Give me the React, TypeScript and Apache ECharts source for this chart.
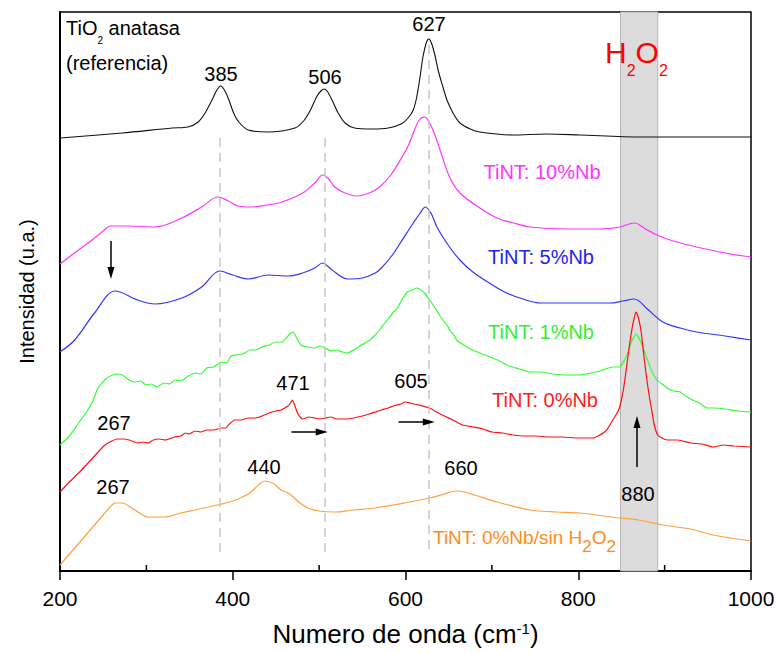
import React, { useEffect, useRef } from "react";
import * as echarts from "echarts";

// Raman spectra (x: cm-1, y: arbitrary stacked intensity units)
const referencia: number[][] = [[200,433],[272,438],[330,443],[348,444],[360,449],[368,458],[376,471],[381,480],[386,485],[391,480],[396,470],[401,458],[407,449],[418,441],[441,439],[472,443],[482,450],[490,461],[497,474],[502,480],[506,482],[510,479],[516,469],[522,458],[530,448],[541,443],[561,442],[580,443],[595,447],[603,453],[609,461],[613,474],[617,495],[620,513],[624,528],[627,532],[630,528],[634,516],[638,500],[643,485],[648,471],[655,458],[663,448],[675,442],[686,439],[724,436],[763,437],[802,436],[871,434],[1000,434]];
const nb10: number[][] = [[200,307],[220,320],[240,333],[250,340],[258,345],[280,345],[310,344],[341,353],[364,364],[383,374],[395,370],[406,365],[422,364],[440,366],[457,369],[481,378],[495,388],[504,396],[511,392],[518,384],[530,378],[544,375],[558,378],[570,384],[583,396],[594,411],[603,425],[609,438],[616,451],[622,454],[628,448],[634,436],[640,421],[651,394],[663,378],[686,363],[706,353],[725,348],[744,344],[786,342],[825,342],[848,344],[865,348],[878,342],[891,336],[910,330],[937,324],[970,318],[1000,314]];
const nb5: number[][] = [[200,219],[217,231],[240,258],[264,280],[290,271],[310,267],[341,273],[364,284],[385,300],[400,296],[418,292],[441,296],[464,295],[481,298],[495,303],[504,308],[515,301],[533,292],[550,293],[565,298],[572,303],[584,315],[594,328],[609,348],[617,358],[623,364],[630,357],[637,343],[651,324],[664,310],[678,299],[697,288],[717,278],[736,272],[756,268],[800,268],[837,268],[852,270],[865,272],[880,262],[898,249],[918,243],[937,239],[970,235],[1000,231]];
const nb1: number[][] = [[200,126],[210,134],[220,146],[232,161],[238,170],[244,183],[254,193],[264,197],[272,196],[280,191],[287,189],[293,190],[300,186],[306,187],[312,184],[320,188],[327,187],[333,191],[340,190],[347,194],[356,198],[363,197],[370,203],[378,204],[387,209],[393,208],[398,215],[405,216],[412,217],[420,221],[427,221],[434,224],[442,226],[450,229],[457,229],[462,233],[466,237],[470,239],[474,233],[479,226],[487,224],[495,223],[501,225],[507,223],[514,220],[520,221],[527,219],[533,218],[540,221],[547,225],[553,228],[559,231],[565,236],[570,241],[576,248],[580,252],[585,258],[590,262],[595,270],[602,279],[608,281],[613,283],[618,281],[622,278],[628,271],[632,266],[635,262],[640,255],[643,251],[648,246],[652,240],[656,236],[660,230],[668,226],[675,222],[686,218],[698,214],[709,210],[720,205],[732,202],[744,199],[757,199],[770,197],[786,196],[802,196],[815,198],[825,200],[840,204],[848,204],[856,215],[862,230],[867,237],[872,230],[879,214],[885,200],[891,191],[897,187],[903,183],[910,180],[918,179],[926,174],[935,170],[942,167],[949,163],[958,163],[970,162],[985,160],[1000,159]];
const nb0: number[][] = [[200,79],[212,90],[225,101],[240,115],[252,126],[266,132],[273,132],[280,131],[286,129],[290,128],[296,129],[302,128],[308,131],[315,132],[322,131],[333,134],[340,135],[345,138],[350,137],[356,140],[363,139],[370,141],[378,141],[387,143],[392,143],[395,146],[402,151],[410,151],[418,153],[426,153],[434,155],[442,158],[450,160],[456,161],[460,163],[464,165],[466,167],[469,171],[472,165],[475,158],[478,154],[481,152],[488,154],[495,153],[501,152],[507,153],[514,154],[520,152],[527,152],[533,152],[540,153],[550,155],[558,157],[565,159],[572,161],[580,163],[586,165],[590,166],[595,167],[599,169],[605,168],[610,167],[615,166],[620,165],[628,163],[636,159],[645,155],[655,151],[666,146],[678,144],[690,142],[700,139],[712,138],[724,136],[737,135],[750,135],[765,134],[782,134],[800,133],[817,133],[825,136],[833,141],[840,151],[845,158],[848,164],[852,180],[856,204],[859,224],[862,241],[865,254],[867,259],[870,252],[873,238],[876,215],[879,194],[882,176],[885,161],[888,146],[892,136],[897,133],[903,131],[915,131],[930,128],[943,127],[956,124],[968,126],[980,125],[1000,124]];
const nb0SinH2O2: number[][] = [[200,6],[215,21],[232,38],[250,56],[258,64],[264,68],[272,68],[283,63],[292,58],[302,54],[321,54],[340,58],[356,61],[372,64],[387,67],[400,70],[411,74],[418,77],[425,82],[431,87],[437,90],[443,89],[448,87],[452,84],[456,81],[464,78],[470,74],[475,70],[481,66],[487,63],[500,60],[518,59],[540,61],[565,63],[599,68],[628,73],[645,77],[652,79],[659,80],[668,79],[680,76],[706,69],[744,61],[775,59],[802,58],[848,53],[870,51],[898,46],[930,42],[956,36],[1000,30]];

const anatasePeaks = [385, 506, 627];
const h2o2Band = [849, 892];
const xMin = 200, xMax = 1000, xInterval = 200;

const FONT = "Liberation Sans, Arial, sans-serif";

export default function App() {
  const ref = useRef<HTMLDivElement>(null);
  useEffect(() => {
    if (!ref.current) return;
    const chart = echarts.init(ref.current, null, { renderer: "svg" });
    const mkLine = (name: string, data: number[][], color: string, smooth: number, width = 1.2) => ({
      name, type: "line", data, showSymbol: false, symbol: "none", z: 3, smooth,
      lineStyle: { color, width }, silent: true,
    });
    const label = (text: string, x: number, y: number, color = "#000", size = 20) => ({
      type: "text", x, y, z: 10,
      style: { text, fill: color, font: `${size}px ${FONT}`, textAlign: "center", textVerticalAlign: "middle" },
    });
    const graphics: any[] = [
      {
        type: "text", x: 66, y: 18, z: 10,
        style: {
          text: "{n|TiO}{s|2}{n| anatasa}", textAlign: "left", textVerticalAlign: "top",
          rich: {
            n: { fontFamily: FONT, fontSize: 20, fill: "#000", lineHeight: 22, verticalAlign: "top" },
            s: { fontFamily: FONT, fontSize: 10, fill: "#000", verticalAlign: "top", padding: [17, 0, 0, 0] },
          },
        },
      },
      { type: "text", x: 66, y: 63, z: 10, style: { text: "(referencia)", fill: "#000", font: `20px ${FONT}`, textAlign: "left", textVerticalAlign: "middle" } },
      label("385", 221, 74), label("506", 325, 77), label("627", 429, 24),
      {
        type: "text", x: 605, y: 37, z: 10,
        style: {
          text: "{n|H}{s|2}{n|O}{s|2}", textAlign: "left", textVerticalAlign: "top",
          rich: {
            n: { fontFamily: FONT, fontSize: 30, fill: "#ff0000", lineHeight: 33, verticalAlign: "top" },
            s: { fontFamily: FONT, fontSize: 16, fill: "#ff0000", verticalAlign: "top", padding: [25, 0, 0, 0] },
          },
        },
      },
      label("TiNT: 10%Nb", 542, 172, "#ff33ff"),
      label("TiNT: 5%Nb", 541, 257, "#2222ee"),
      label("TiNT: 1%Nb", 541, 332, "#33ee33"),
      label("TiNT: 0%Nb", 545, 400, "#ff2020"),
      {
        type: "text", x: 433, y: 528, z: 10,
        style: {
          text: "{n|TiNT: 0%Nb/sin H}{s|2}{n|O}{s|2}", textAlign: "left", textVerticalAlign: "top",
          rich: {
            n: { fontFamily: FONT, fontSize: 19, fill: "#ff8c1a", lineHeight: 22, verticalAlign: "top" },
            s: { fontFamily: FONT, fontSize: 17, fill: "#ff8c1a", verticalAlign: "top", padding: [10, 0, 0, 0] },
          },
        },
      },
      label("471", 293, 383), label("605", 411, 381),
      label("267", 114, 423), label("267", 113, 487),
      label("440", 264, 467), label("660", 461, 468), label("880", 638, 494),
    ];
    const option: any = {
      animation: false,
      grid: { left: 60, top: 12, width: 691, height: 559, show: true, borderColor: "#000", borderWidth: 1.5 },
      xAxis: {
        type: "value", min: xMin, max: xMax, interval: xInterval,
        axisLine: { lineStyle: { color: "#000", width: 2 } },
        axisTick: { length: 9, lineStyle: { color: "#000", width: 1.5 } },
        splitLine: { show: false },
        axisLabel: { fontFamily: FONT, fontSize: 21, color: "#000", margin: 17, formatter: (v: number) => String(v) },
        name: "{a|Numero de onda (cm}{s|-1}{a|)}",
        nameLocation: "middle", nameGap: 50,
        nameTextStyle: {
          rich: {
            a: { fontFamily: FONT, fontSize: 26, color: "#000", verticalAlign: "top", lineHeight: 28 },
            s: { fontFamily: FONT, fontSize: 15, color: "#000", verticalAlign: "top" },
          },
        },
      },
      yAxis: {
        type: "value", min: 0, max: 559,
        axisLine: { show: true, lineStyle: { color: "#000", width: 2 } },
        axisTick: { show: false }, axisLabel: { show: false }, splitLine: { show: false },
        name: "Intensidad (u.a.)", nameLocation: "middle", nameGap: 23,
        nameTextStyle: { fontFamily: FONT, fontSize: 20, color: "#000" },
      },
      series: [
        {
          type: "line", data: [], z: 1, silent: true,
          markArea: {
            silent: true,
            itemStyle: { color: "#dcdcdc", borderColor: "#b4b4b4", borderWidth: 1 },
            data: [[{ xAxis: h2o2Band[0] }, { xAxis: h2o2Band[1] }]],
          },
          markLine: {
            silent: true, symbol: "none", label: { show: false },
            lineStyle: { color: "#c8c8c8", type: [9, 6], width: 1.5 },
            data: [
              [{ coord: [anatasePeaks[0], 433] }, { coord: [anatasePeaks[0], 18] }],
              [{ coord: [anatasePeaks[1], 433] }, { coord: [anatasePeaks[1], 18] }],
              [{ coord: [anatasePeaks[2], 526] }, { coord: [anatasePeaks[2], 18] }],
            ],
          },
        },
        mkLine("TiNT: 0%Nb/sin H2O2", nb0SinH2O2, "#ffa040", 0.3),
        mkLine("TiNT: 1%Nb", nb1, "#33ff33", 0.15),
        mkLine("TiNT: 0%Nb", nb0, "#ff1010", 0.15),
        mkLine("TiNT: 5%Nb", nb5, "#3333ff", 0.35),
        mkLine("TiNT: 10%Nb", nb10, "#ff33ff", 0.35),
        mkLine("TiO2 anatasa", referencia, "#111111", 0.3, 1.1),
        {
          type: "line", data: [], z: 5, silent: true,
          markLine: {
            silent: true, symbol: ["none", "triangle"], symbolSize: [7, 12], label: { show: false },
            lineStyle: { color: "#000", type: "solid", width: 1.5 },
            data: [
              [{ coord: [259, 330] }, { coord: [259, 298] }],
              [{ coord: [468, 139] }, { coord: [503, 139] }],
              [{ coord: [592, 149] }, { coord: [627, 149] }],
              [{ coord: [868, 104] }, { coord: [868, 149] }],
            ],
          },
        },
      ],
      graphic: graphics,
    };
    chart.setOption(option);
    // minor ticks (inside) at the midpoints between major ticks
    const minor: any[] = [];
    for (let v = xMin + xInterval / 2; v < xMax; v += xInterval) {
      const p = chart.convertToPixel({ xAxisIndex: 0, yAxisIndex: 0 }, [v, 0]) as number[];
      minor.push({ type: "line", z: 10, shape: { x1: p[0], y1: p[1], x2: p[0], y2: p[1] - 6 }, style: { stroke: "#000", lineWidth: 1.5 } });
    }
    chart.setOption({ graphic: [...graphics, ...minor] });
    return () => chart.dispose();
  }, []);
  return <div ref={ref} style={{ position: "fixed", left: 0, top: 0, width: 778, height: 654, background: "#fff" }} />;
}
